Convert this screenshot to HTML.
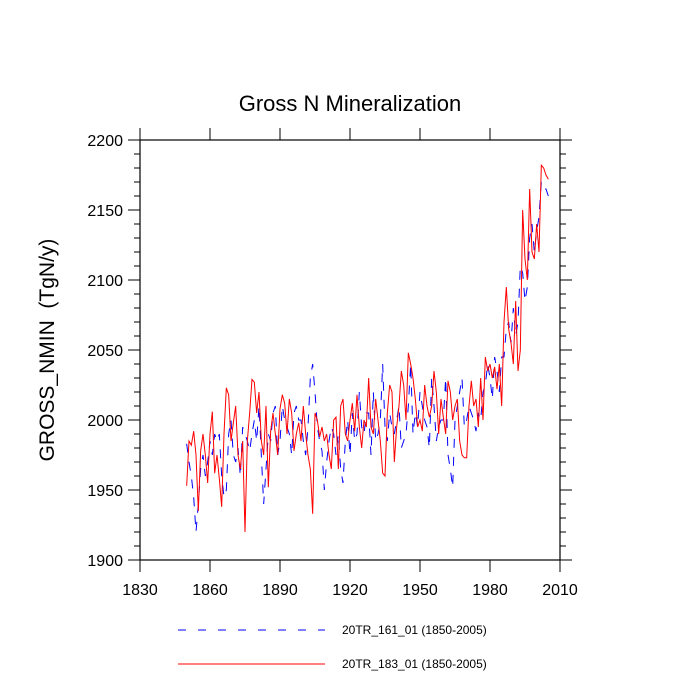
<!DOCTYPE html>
<html><head><meta charset="utf-8"><style>body{margin:0;background:#fff}svg{display:block}</style></head>
<body>
<svg id="chart" width="700" height="700" xmlns="http://www.w3.org/2000/svg" font-family="Liberation Sans, sans-serif">
<text x="350" y="111" text-anchor="middle" font-size="22">Gross N Mineralization</text>
<text transform="translate(54,350) rotate(-90)" text-anchor="middle" font-size="21" xml:space="preserve" style="white-space:pre">GROSS_NMIN  (TgN/y)</text>
<g id="axes"></g>
<g id="series"></g>
<g>
<line x1="178" y1="630" x2="325" y2="630" stroke="#0000ff" stroke-width="1" stroke-dasharray="8,12"/>
<text x="342" y="634" font-size="12">20TR_161_01 (1850-2005)</text>
<line x1="178" y1="664" x2="325" y2="664" stroke="#ff0000" stroke-width="1"/>
<text x="342" y="668" font-size="12">20TR_183_01 (1850-2005)</text>
</g>
</svg>
<script>
const startYear = 1850;
const xTicks = [1830,1860,1890,1920,1950,1980,2010];
const yTicks = [1900,1950,2000,2050,2100,2150,2200];
const redValues = [1953,1985,1982,1992,1975,1935,1978,1990,1975,1955,
1990,2006,1962,1975,1958,1938,1990,2023,2018,1985,
1998,2010,1975,1965,1985,1920,1985,2005,2029,2027,
2005,2020,1985,1975,2010,1952,1992,2005,1990,1975,
2008,2018,2012,1990,2015,2005,1978,1990,1998,1985,
2010,1990,1975,1965,1933,2005,2000,1988,1995,1985,
1990,1975,1965,2000,2002,1965,2010,2015,1990,1985,
2000,2012,1992,2018,1995,1980,2000,1995,2030,1995,
1990,2015,2000,1985,1962,1960,2005,2025,2020,1970,
1995,2010,2035,2025,2000,2048,2040,2030,2015,1995,
2000,1992,2025,2010,2002,2010,2035,2020,1990,2015,
2002,1990,2028,2020,2000,2010,2015,1985,1975,1973,
1973,2010,2028,2010,2015,1995,2030,2000,2045,2035,
2040,2030,2038,2022,2040,2010,2070,2095,2065,2055,
2040,2085,2035,2050,2150,2115,2100,2165,2120,2115,
2140,2120,2182,2180,2175,2172];
const blueValues = [1983,1970,1960,1945,1920,1940,1965,1975,1960,1970,
1985,1975,1990,1985,1990,1960,1945,1950,1990,2000,
1975,1970,1980,1960,1995,1990,1985,1978,1990,2000,
1985,2010,1975,1940,1965,1990,1985,2005,2010,1975,
1985,2010,2000,1995,1990,1975,2005,2010,2000,2000,
1985,1975,1995,2030,2040,2020,1995,1985,1978,1950,
1970,1985,1995,1990,1975,1990,1965,1955,1985,2000,
1975,2005,1985,1990,2020,1995,1990,2005,2005,1975,
2020,1985,1990,2000,2040,1995,1985,2005,1995,1990,
2000,2010,1980,1985,1990,2010,2040,1990,2005,1995,
2020,2010,2000,1995,1980,2030,2010,1985,1995,2000,
2000,2030,1975,1965,1952,2000,2010,2020,2030,1995,
2000,2010,2005,2000,1992,2005,2000,2020,2025,2040,
2030,2015,2045,2035,2020,2045,2045,2065,2070,2055,
2080,2060,2070,2110,2105,2085,2095,2130,2140,2120,
2135,2145,2170,2165,2165,2160];
const NS='http://www.w3.org/2000/svg';
const X0=140,X1=560,Y0=560,Y1=140;
const xs=v=>X0+(v-1830)/(2010-1830)*(X1-X0);
const ys=v=>Y0-(v-1900)/(2200-1900)*(Y0-Y1);
function mk(t,a,p){const e=document.createElementNS(NS,t);for(const k in a)e.setAttribute(k,a[k]);p.appendChild(e);return e;}
const ax=document.getElementById('axes');
const frame=mk('rect',{x:X0,y:Y1,width:X1-X0,height:Y0-Y1,fill:'none',stroke:'#000','stroke-width':1.2},ax);


xTicks.forEach(t=>{const x=xs(t);
mk('line',{x1:x,y1:Y0,x2:x,y2:Y0+12,stroke:'#000'},ax);
mk('line',{x1:x,y1:Y1,x2:x,y2:Y1-12,stroke:'#000'},ax);
const l=mk('text',{x:x,y:Y0+35,'text-anchor':'middle','font-size':16},ax);l.textContent=t;

});
for(let v=1900;v<=2200;v+=10){const y=ys(v);const len=(v%50===0)?12:6;
mk('line',{x1:X0,y1:y,x2:X0-len,y2:y,stroke:'#000'},ax);
mk('line',{x1:X1,y1:y,x2:X1+len,y2:y,stroke:'#000'},ax);}
yTicks.forEach(t=>{const l=mk('text',{x:X0-17,y:ys(t)+6,'text-anchor':'end','font-size':16},ax);l.textContent=t;

});
const sg=document.getElementById('series');
function pts(a){return a.map((v,i)=>xs(startYear+i).toFixed(2)+','+ys(v).toFixed(2)).join(' ');}
const b=mk('polyline',{points:pts(blueValues),fill:'none',stroke:'#0000ff','stroke-width':1,'stroke-dasharray':'9,9'},sg);


const r=mk('polyline',{points:pts(redValues),fill:'none',stroke:'#ff0000','stroke-width':1},sg);


</script>
</body></html>
